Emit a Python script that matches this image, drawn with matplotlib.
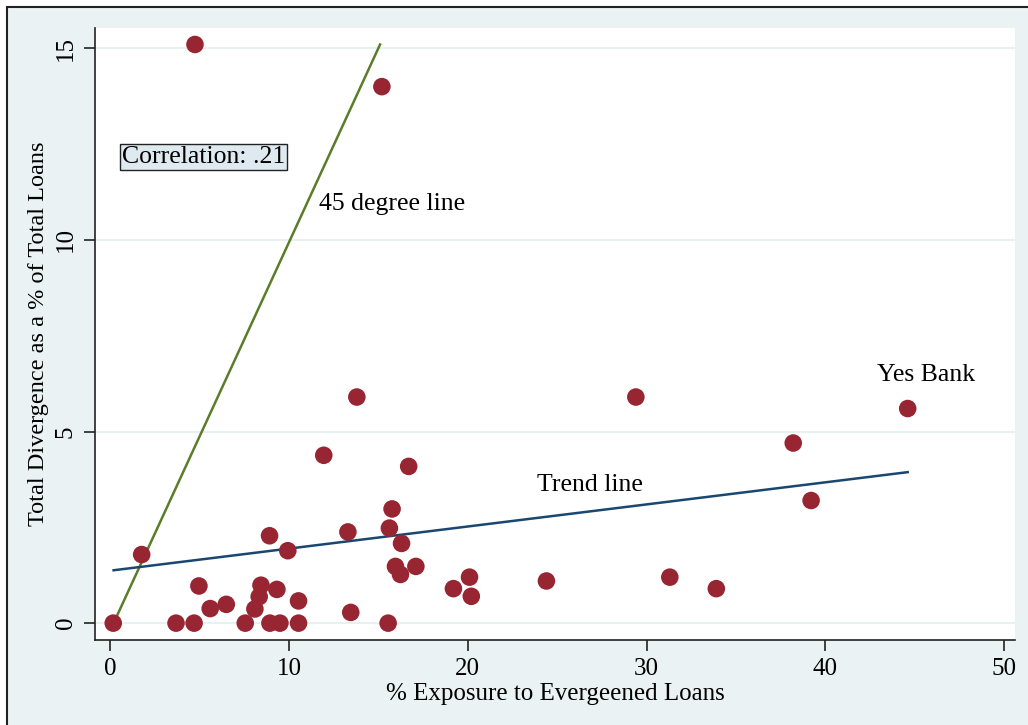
import matplotlib
matplotlib.use("Agg")
import matplotlib.pyplot as plt
from matplotlib.patches import Rectangle

# exposure (%) and divergence (% of total loans) for each bank
exposure = [4.75, 15.2, 13.8, 29.4, 44.6, 38.2, 11.95, 16.7, 39.2, 15.77,
            13.3, 15.62, 8.92, 16.3, 9.94, 1.77, 15.96, 16.24, 17.1, 20.1,
            19.2, 20.2, 24.4, 31.3, 33.9, 4.97, 5.6, 6.5, 8.44, 8.34,
            8.1, 9.33, 10.54, 13.46, 0.18, 3.69, 4.7, 7.56, 8.94, 9.5,
            10.54, 15.55]
divergence = [15.1, 14.0, 5.9, 5.9, 5.6, 4.7, 4.38, 4.09, 3.2, 2.98,
              2.38, 2.48, 2.28, 2.08, 1.89, 1.79, 1.48, 1.27, 1.48, 1.2,
              0.9, 0.7, 1.1, 1.2, 0.9, 0.97, 0.38, 0.49, 0.99, 0.69,
              0.37, 0.88, 0.58, 0.28, 0.0, 0.0, 0.0, 0.0, 0.0, 0.0,
              0.0, 0.0]

line45_x = [0.2, 15.1]
line45_y = [0.0, 15.1]
trend_x = [0.2, 44.6]
trend_y = [1.38, 3.94]

xticks = [0, 10, 20, 30, 40, 50]
yticks = [0, 5, 10, 15]

serif = ["Liberation Serif", "DejaVu Serif"]
plt.rcParams["font.family"] = serif

bg = "#eaf2f3"
fig = plt.figure(figsize=(10.28, 7.25), dpi=100)
fig.patch.set_facecolor("white")
fig.patches.append(Rectangle((7 / 1028, -0.05), 1.1, 1 - 7 / 725 + 0.05,
                             transform=fig.transFigure, facecolor=bg,
                             edgecolor="#222222", linewidth=1.5, zorder=-10))

ax = fig.add_axes([95 / 1028, 85 / 725, 920 / 1028, 612 / 725])
ax.set_facecolor("white")

for yv in yticks:
    ax.axhline(yv, color="#e4edf0", linewidth=1.2, zorder=0)

ax.plot(line45_x, line45_y, color="#5b7d2a", linewidth=1.8, zorder=2)
ax.plot(trend_x, trend_y, color="#1a476f", linewidth=1.8, zorder=2)
ax.scatter(exposure, divergence, s=160, color="#972532", edgecolors="none", zorder=3)

ax.text(0.67, 12.17, "Correlation: .21", fontsize=18.5, va="center", ha="left",
        bbox=dict(boxstyle="square,pad=0.08", facecolor="#dfeaf0", edgecolor="#222222", linewidth=1))
ax.text(11.7, 10.94, "45 degree line", fontsize=18.5, va="center", ha="left")
ax.text(23.85, 3.6, "Trend line", fontsize=18.5, va="center", ha="left")
ax.text(42.9, 6.47, "Yes Bank", fontsize=18.5, va="center", ha="left")

ax.set_xlim(-0.84, 50.6)
ax.set_ylim(-0.44, 15.53)
ax.set_xticks(xticks)
ax.set_yticks(yticks)
ax.tick_params(axis="both", direction="out", length=8, width=1.2, labelsize=18,
               color="#222222", pad=5)
for lab in ax.get_yticklabels():
    lab.set_rotation(90)
    lab.set_va("center")
for side in ["top", "right"]:
    ax.spines[side].set_visible(False)
for side in ["left", "bottom"]:
    ax.spines[side].set_color("#222222")
    ax.spines[side].set_linewidth(1.2)

ax.set_xlabel("% Exposure to Evergeened Loans", fontsize=18, labelpad=2)
ax.set_ylabel("Total Divergence as a % of Total Loans", fontsize=17.5, labelpad=4)

fig.savefig("out.png", dpi=100, facecolor=fig.get_facecolor())
